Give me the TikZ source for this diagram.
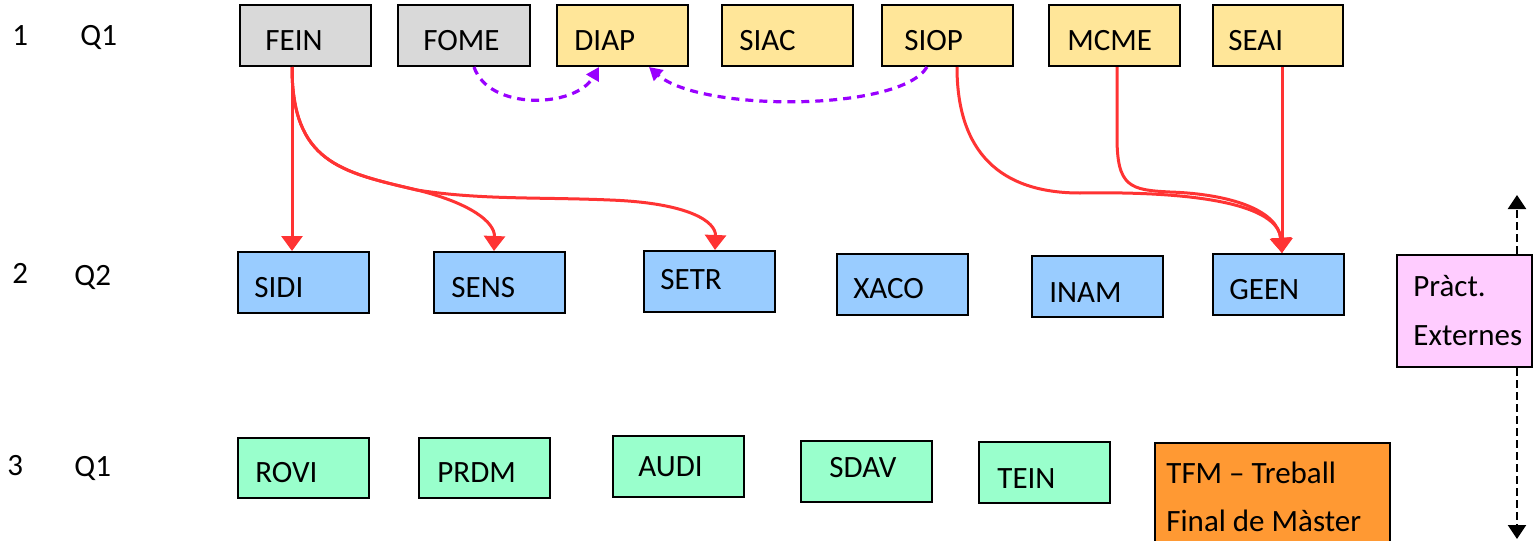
\documentclass[tikz,border=0pt]{standalone}
\usepackage{fontspec}
\setmainfont{Carlito}
\usetikzlibrary{arrows.meta,fit,calc}
\definecolor{cgrey}{HTML}{D9D9D9}
\definecolor{cyel}{HTML}{FFE699}
\definecolor{cblue}{HTML}{99CCFF}
\definecolor{cgreen}{HTML}{99FFCC}
\definecolor{cpink}{HTML}{FFCCFF}
\definecolor{corange}{HTML}{FF9933}
\definecolor{cred}{HTML}{FF3333}
\definecolor{cpur}{HTML}{9900FF}
\begin{document}
\begin{tikzpicture}[x=0.5pt,y=-0.5pt,
  font=\fontsize{15.5}{18}\selectfont,
  box/.style={draw=black, line width=1pt, inner sep=0pt},
  lbl/.style={anchor=base west, inner sep=0pt},
  redarr/.style={draw=cred, line width=1.5pt, -{Triangle[length=7.5pt,width=10.5pt]}},
  purarr/.style={draw=cpur, line width=1.6pt, dash pattern=on 4pt off 3pt, -{Triangle[length=6.5pt,width=7pt]}},
  blkarr/.style={draw=black, line width=1.2pt, dash pattern=on 4pt off 2pt, -{Triangle[length=7pt,width=9pt]}}
]
\clip (0,0) rectangle (1533,541);
\useasboundingbox (0,0) rectangle (1533,541);

% row labels
\node[lbl] (r1) at (12,45) {1};
\node[lbl] (q1) at (80,45) {Q1};
\node[lbl] (r2) at (12,283) {2};
\node[lbl] (q2) at (74,285) {Q2};
\node[lbl] (r3) at (7,475) {3};
\node[lbl] (q3) at (74,476) {Q1};

% row 1
\node[box,fill=cgrey,fit={(240,5)(371,66)}] (fein) {};
\node[lbl] (feinT) at (265,50) {FEIN};
\node[box,fill=cgrey,fit={(398,5)(530,66)}] (fome) {};
\node[lbl] (fomeT) at (423,50) {FOME};
\node[box,fill=cyel,fit={(557,5)(688,66)}] (diap) {};
\node[lbl] (diapT) at (574,50) {DIAP};
\node[box,fill=cyel,fit={(722,5)(853,66)}] (siac) {};
\node[lbl] (siacT) at (739,50) {SIAC};
\node[box,fill=cyel,fit={(882,5)(1013,66)}] (siop) {};
\node[lbl] (siopT) at (904,50) {SIOP};
\node[box,fill=cyel,fit={(1049,5)(1180,66)}] (mcme) {};
\node[lbl] (mcmeT) at (1067,50) {MCME};
\node[box,fill=cyel,fit={(1213,5)(1343,66)}] (seai) {};
\node[lbl] (seaiT) at (1228,50) {SEAI};

% row 2
\node[box,fill=cblue,fit={(238,252)(369,313)}] (sidi) {};
\node[lbl] (sidiT) at (254,297) {SIDI};
\node[box,fill=cblue,fit={(434,252)(565,313)}] (sens) {};
\node[lbl] (sensT) at (451,297) {SENS};
\node[box,fill=cblue,fit={(644,251)(775,312)}] (setr) {};
\node[lbl] (setrT) at (660,289) {SETR};
\node[box,fill=cblue,fit={(837,254)(968,315)}] (xaco) {};
\node[lbl] (xacoT) at (853,298) {XACO};
\node[box,fill=cblue,fit={(1032,256)(1163,317)}] (inam) {};
\node[lbl] (inamT) at (1049,302) {INAM};
\node[box,fill=cblue,fit={(1213,254)(1344,315)}] (geen) {};
\node[lbl] (geenT) at (1229,299) {GEEN};

% external practice box with double dashed arrow
\coordinate (ptop) at (1517,195);
\coordinate (pbot) at (1517,539);
\node[box,fill=cpink,fit={(1397,255)(1532,367)}] (pract) {};
\node[lbl] (practT1) at (1413,296) {Pràct.};
\node[lbl] (practT2) at (1413,345) {Externes};
\draw[blkarr] (pract.north -| ptop) -- (ptop);
\draw[blkarr] (pract.south -| pbot) -- (pbot);

% row 3
\node[box,fill=cgreen,fit={(238,438)(369,498)}] (rovi) {};
\node[lbl] (roviT) at (255,482) {ROVI};
\node[box,fill=cgreen,fit={(419,438)(550,498)}] (prdm) {};
\node[lbl] (prdmT) at (437,482) {PRDM};
\node[box,fill=cgreen,fit={(613,436)(744,497)}] (audi) {};
\node[lbl] (audiT) at (638,476) {AUDI};
\node[box,fill=cgreen,fit={(801,441)(932,502)}] (sdav) {};
\node[lbl] (sdavT) at (829,477) {SDAV};
\node[box,fill=cgreen,fit={(979,442)(1110,503)}] (tein) {};
\node[lbl] (teinT) at (997,488) {TEIN};
\node[box,fill=corange,fit={(1155,443)(1390,560)}] (tfm) {};
\node[lbl] (tfmT1) at (1166,483) {TFM – Treball};
\node[lbl] (tfmT2) at (1166,531) {Final de Màster};

% red prerequisite arrows
\coordinate (j1) at (417,190);
\coordinate (j2) at (1080,193);
\coordinate (j3) at (1170,192);
\draw[redarr] ($(fein.south west)+(53,0)$) -- ($(sidi.north west)+(55,0)$);
\draw[redarr] ($(fein.south west)+(53,0)$) .. controls +(0,95) and (340,172) .. (j1)
   .. controls (470,203) and (495,222) .. ($(sens.north west)+(61,0)$);
\draw[redarr] ($(fein.south west)+(53,0)$) .. controls +(0,95) and (340,172) .. (j1)
   .. controls (480,200) and (540,197) .. (610,200)
   .. controls (690,203) and (716,222) .. ($(setr.north west)+(72,0)$);
\draw[redarr] ($(siop.south west)+(76,0)$) .. controls +(0,85) and (1000,193) .. (j2)
   .. controls (1200,191) and (1278,205) .. ($(geen.north west)+(70,0)$);
\draw[redarr] ($(mcme.south west)+(69,0)$) -- ++(0,70) .. controls +(0,50) and (1130,190) .. (j3)
   .. controls (1230,194) and (1278,210) .. ($(geen.north west)+(70,0)$);
\draw[redarr] ($(seai.south west)+(70,0)$) -- ($(geen.north west)+(70,0)$);

% purple dashed arrows
\draw[purarr] ($(fome.south west)+(77,0)$) .. controls +(15,44) and (575,108) .. ($(diap.south west)+(43,0)$);
\draw[purarr] ($(siop.south west)+(46,0)$) .. controls (900,112) and (700,112) .. ($(diap.south west)+(93,0)$);
\end{tikzpicture}
\end{document}
